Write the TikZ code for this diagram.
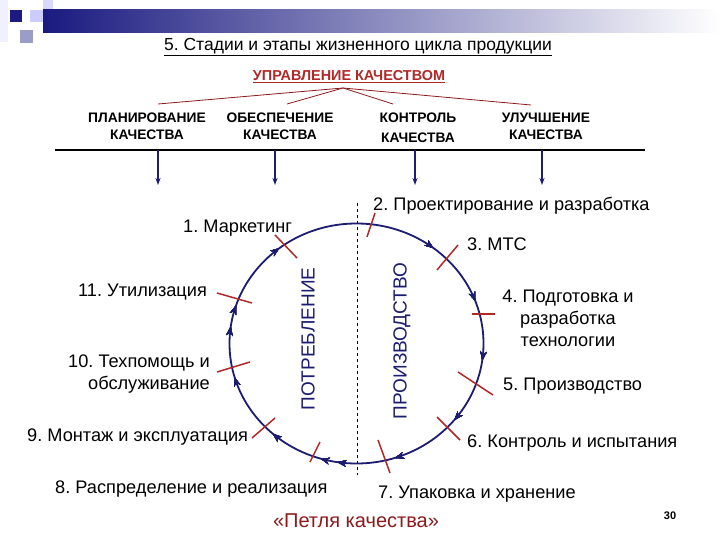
\documentclass[tikz,border=0pt]{standalone}
\usepackage{fontspec}
\setmainfont{Liberation Sans}
\usetikzlibrary{decorations.markings,arrows.meta}
\definecolor{navy}{HTML}{1C1C70}
\definecolor{barnavy}{HTML}{1A1A80}
\definecolor{dred}{HTML}{B02828}
\definecolor{tred}{HTML}{8B1A1A}
\frenchspacing
\begin{document}
\begin{tikzpicture}[x=1pt,y=-1pt,
  lab/.style={font=\fontsize{18.2}{22}\selectfont, inner sep=0pt},
  capt/.style={font=\bfseries\fontsize{13.8}{17}\selectfont, align=center, inner sep=0pt},
  tickln/.style={draw=dred, line width=1.5pt},
  branch/.style={draw=tred, line width=0.8pt},
  downarr/.style={draw=navy, line width=1.2pt, -{Stealth[length=7pt,width=5pt]}},
  loopln/.style={draw=navy, line width=1.8pt},
  mk/.style={decoration={markings, mark=at position #1 with {\arrow{Stealth[length=9pt,width=6.5pt]}}}, postaction={decorate}},
  vtext/.style={font=\fontsize{19}{21}\selectfont, text=navy, rotate=90, inner sep=0pt}]
\useasboundingbox (0,0) rectangle (720,540);
\fill[white] (0,0) rectangle (720,540);
% header decoration
\fill[black!8!blue!6] (0,0) rectangle (8,42);
\fill[blue!15!white] (43,0) rectangle (53,20);
\fill[blue!20!white] (30,10) rectangle (55,22);
\fill[barnavy] (10,10) rectangle (22,22);
\fill[blue!30!gray!60] (20,30) rectangle (33,43);
\shade[left color=barnavy, middle color=blue!20!gray!50, right color=white] (43,10) rectangle (720,33);
% title
\node[font=\fontsize{17.5}{20}\selectfont, inner sep=0pt] (title) at (358,47) {\underline{5. Стадии и этапы жизненного цикла продукции}};
\node[font=\bfseries\fontsize{14.4}{16}\selectfont, text=dred, inner sep=0pt] (qm) at (349,77) {\underline{УПРАВЛЕНИЕ КАЧЕСТВОМ}};
\coordinate (apex) at (343,88);
\coordinate (e1) at (158,104);
\coordinate (e2) at (287,104);
\coordinate (e3) at (393,104);
\coordinate (e4) at (531,105);
\draw[branch] (apex) -- (e1);
\draw[branch] (apex) -- (e2);
\draw[branch] (apex) -- (e3);
\draw[branch] (apex) -- (e4);
\node[capt] (plan) at (147,126) {ПЛАНИРОВАНИЕ\\КАЧЕСТВА};
\node[capt] (obes) at (280,126) {ОБЕСПЕЧЕНИЕ\\КАЧЕСТВА};
\node[capt, font=\bfseries\fontsize{13.8}{20}\selectfont] (kontr) at (418,127.5) {КОНТРОЛЬ\\КАЧЕСТВА};
\node[capt] (ulu) at (546,126) {УЛУЧШЕНИЕ\\КАЧЕСТВА};
\coordinate (hl) at (55,150);
\coordinate (hr) at (645,150);
\draw[line width=1.8pt] (hl) -- (hr);
\foreach \x/\n in {158/a,275/b,415/c,542/d}{
  \coordinate (t\n) at (\x,150);
  \coordinate (b\n) at (\x,185);
  \draw[downarr] (t\n) -- (b\n);
}
% dashed divider
\coordinate (dtop) at (357,203);
\coordinate (dbot) at (357,475);
\draw[dashed, line width=0.6pt] (dtop) -- (dbot);
% loop
\draw[loopln, mk=0.022, mk=0.108, mk=0.200, mk=0.275, mk=0.297, mk=0.367,
  mk=0.456, mk=0.522, mk=0.550, mk=0.644, mk=0.856, mk=0.944]
  (356.5,343.5) ellipse [x radius=127, y radius=120];
% ticks
\draw[tickln] (275,235) -- (297,258);
\draw[tickln] (375,213) -- (367,237);
\draw[tickln] (458,245) -- (437,270);
\draw[tickln] (472,314) -- (495,314);
\draw[tickln] (458,372) -- (493,395);
\draw[tickln] (437,417) -- (460,440);
\draw[tickln] (378,440) -- (390,473);
\draw[tickln] (320,442) -- (310,462);
\draw[tickln] (275,418) -- (252,438);
\draw[tickln] (217,372) -- (250,362);
\draw[tickln] (217,293) -- (252,303);
% vertical labels
\node[vtext] (potr) at (308,339) {ПОТРЕБЛЕНИЕ};
\node[vtext] (proiz) at (402,341) {ПРОИЗВОДСТВО};
% stage labels
\node[lab, anchor=west] (s2) at (373,206) {2. Проектирование и разработка};
\node[lab, anchor=west] (s1) at (183,228) {1. Маркетинг};
\node[lab, anchor=west] (s3) at (467,244) {3. МТС};
\node[lab, anchor=west] (s11) at (78,292) {11. Утилизация};
\node[lab, align=center] (s4) at (568,318) {4. Подготовка и\\разработка\\технологии};
\node[lab, align=right, anchor=east] (s10) at (210,374) {10. Техпомощь и\\обслуживание};
\node[lab, anchor=west] (s5) at (503,386) {5. Производство};
\node[lab, anchor=west] (s9) at (27,437) {9. Монтаж и эксплуатация};
\node[lab, anchor=west] (s6) at (467,443) {6. Контроль и испытания};
\node[lab, anchor=west] (s8) at (55,489) {8. Распределение и реализация};
\node[lab, anchor=west] (s7) at (378,494) {7. Упаковка и хранение};
\node[lab, font=\fontsize{20}{22}\selectfont, text=tred] (loopname) at (356,521) {«Петля качества»};
\node[font=\bfseries\fontsize{11}{13}\selectfont, inner sep=0pt] (pg) at (670,516) {30};
\end{tikzpicture}
\end{document}
